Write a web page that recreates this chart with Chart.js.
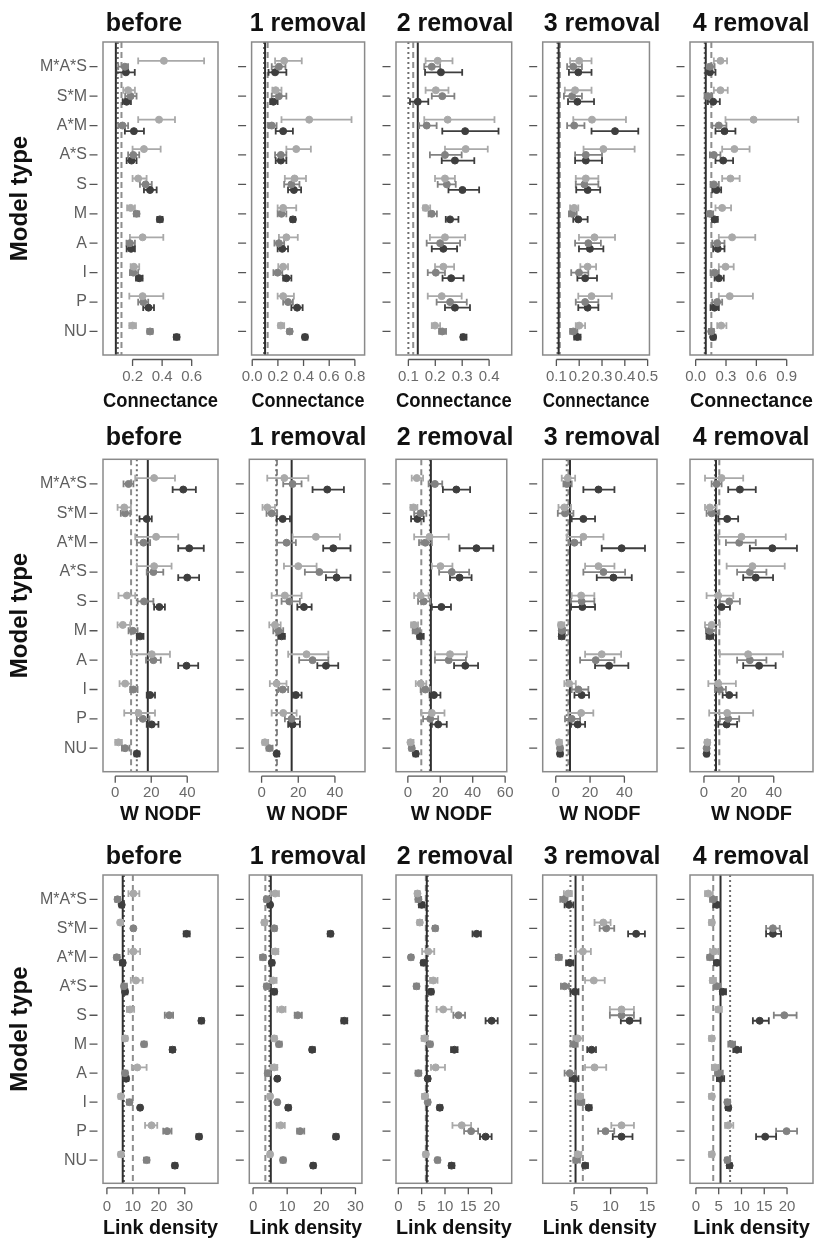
<!DOCTYPE html>
<html>
<head>
<meta charset="utf-8">
<script src="https://cdn.jsdelivr.net/npm/chart.js@4.4.1/dist/chart.umd.min.js"></script>
<style>
  html, body { margin: 0; padding: 0; background: #fff; }
  body { width: 818px; height: 1241px; position: relative; overflow: hidden;
         font-family: "Liberation Sans", Arial, Helvetica, sans-serif; }
  canvas { position: absolute; }
  .ptitle { position: absolute; width: 200px; text-align: center; font-weight: bold;
            font-size: 25px; line-height: 30px; color: #111; white-space: nowrap; }
</style>
</head>
<body>
<script>
// ---------- categories and panel labels ----------
const categories = ['M*A*S', 'S*M', 'A*M', 'A*S', 'S', 'M', 'A', 'I', 'P', 'NU'];
const stages = ['before', '1 removal', '2 removal', '3 removal', '4 removal'];
const metricNames = ['Connectance', 'W NODF', 'Link density'];

// Each entry: [estimate, lower, upper] per category (same order as categories)
// ---------- Connectance ----------
const conn0_s1 = [[0.412,0.238,0.684],[0.17,0.137,0.216],[0.379,0.238,0.487],[0.277,0.2,0.39],[0.238,0.2,0.295],[0.187,0.163,0.216],[0.268,0.182,0.408],[0.209,0.187,0.245],[0.268,0.178,0.408],[0.2,0.178,0.223]];
const conn0_s2 = [[0.148,0.103,0.17],[0.187,0.15,0.227],[0.132,0.103,0.17],[0.205,0.17,0.245],[0.288,0.25,0.33],[0.227,0.209,0.245],[0.182,0.159,0.216],[0.205,0.182,0.238],[0.272,0.238,0.306],[0.318,0.3,0.336]];
const conn0_s3 = [[0.155,0.09,0.215],[0.16,0.133,0.189],[0.209,0.148,0.277],[0.193,0.16,0.227],[0.318,0.277,0.363],[0.385,0.367,0.403],[0.19,0.16,0.216],[0.245,0.223,0.268],[0.308,0.272,0.345],[0.498,0.48,0.516]];

const conn1_s1 = [[0.249,0.178,0.386],[0.183,0.157,0.228],[0.444,0.228,0.774],[0.343,0.266,0.457],[0.33,0.254,0.419],[0.241,0.198,0.343],[0.266,0.208,0.355],[0.241,0.203,0.279],[0.241,0.198,0.325],[0.223,0.203,0.249]];
const conn1_s2 = [[0.208,0.152,0.259],[0.208,0.152,0.266],[0.152,0.127,0.19],[0.223,0.178,0.266],[0.305,0.249,0.368],[0.228,0.198,0.266],[0.208,0.173,0.249],[0.198,0.165,0.234],[0.279,0.241,0.317],[0.292,0.274,0.31]];
const conn1_s3 = [[0.178,0.127,0.266],[0.165,0.14,0.198],[0.241,0.183,0.317],[0.223,0.183,0.266],[0.325,0.279,0.381],[0.317,0.3,0.335],[0.234,0.198,0.279],[0.266,0.241,0.305],[0.35,0.305,0.393],[0.411,0.393,0.43]];

const conn2_s1 = [[0.209,0.164,0.264],[0.202,0.164,0.249],[0.246,0.159,0.42],[0.313,0.236,0.395],[0.236,0.199,0.273],[0.164,0.155,0.181],[0.236,0.18,0.311],[0.23,0.199,0.27],[0.224,0.172,0.298],[0.199,0.187,0.218]];
const conn2_s2 = [[0.187,0.159,0.218],[0.226,0.187,0.271],[0.168,0.14,0.205],[0.236,0.18,0.298],[0.243,0.209,0.276],[0.187,0.175,0.206],[0.218,0.168,0.292],[0.202,0.172,0.236],[0.255,0.205,0.317],[0.226,0.214,0.24]];
const conn2_s3 = [[0.221,0.162,0.3],[0.135,0.106,0.174],[0.311,0.226,0.435],[0.273,0.224,0.345],[0.301,0.249,0.363],[0.255,0.239,0.286],[0.23,0.187,0.281],[0.259,0.227,0.305],[0.273,0.236,0.329],[0.304,0.295,0.316]];

const conn3_s1 = [[0.2,0.16,0.254],[0.182,0.137,0.254],[0.256,0.174,0.405],[0.306,0.219,0.443],[0.229,0.185,0.284],[0.178,0.16,0.196],[0.267,0.199,0.357],[0.237,0.205,0.274],[0.254,0.196,0.343],[0.2,0.185,0.226]];
const conn3_s2 = [[0.174,0.147,0.212],[0.169,0.133,0.212],[0.178,0.147,0.223],[0.229,0.182,0.3],[0.223,0.185,0.284],[0.169,0.155,0.189],[0.24,0.182,0.295],[0.199,0.165,0.24],[0.226,0.185,0.284],[0.174,0.16,0.192]];
const conn3_s3 = [[0.196,0.155,0.254],[0.192,0.151,0.265],[0.357,0.254,0.459],[0.229,0.182,0.3],[0.237,0.187,0.292],[0.196,0.174,0.237],[0.247,0.199,0.306],[0.226,0.192,0.278],[0.237,0.196,0.284],[0.192,0.178,0.206]];

const conn4_s1 = [[0.245,0.18,0.31],[0.245,0.18,0.317],[0.573,0.295,1.014],[0.383,0.262,0.533],[0.344,0.262,0.435],[0.262,0.196,0.35],[0.36,0.229,0.589],[0.295,0.229,0.376],[0.337,0.229,0.566],[0.252,0.213,0.304]];
const conn4_s2 = [[0.141,0.108,0.187],[0.121,0.088,0.164],[0.229,0.164,0.304],[0.18,0.141,0.245],[0.18,0.147,0.229],[0.141,0.115,0.173],[0.213,0.164,0.285],[0.187,0.147,0.229],[0.213,0.164,0.262],[0.154,0.131,0.18]];
const conn4_s3 = [[0.141,0.098,0.196],[0.173,0.121,0.239],[0.285,0.196,0.393],[0.272,0.196,0.37],[0.206,0.164,0.252],[0.187,0.164,0.219],[0.219,0.173,0.285],[0.229,0.187,0.278],[0.187,0.147,0.229],[0.173,0.154,0.196]];

// ---------- W NODF ----------
const nodf0_s1 = [[21.6,11.1,33.2],[5,1.3,8.7],[22.7,11.1,35],[21.6,12,31.3],[6.5,1.8,11.1],[4.2,1.3,8.3],[20.3,9.2,30.4],[5.5,2.4,8.7],[12.9,5,22.1],[1.8,0,3.7]];
const nodf0_s2 = [[7.4,4.6,10.1],[5.5,3.1,8.3],[15.7,12,19.4],[21.2,17.5,26.7],[16,12.4,21.2],[9.8,7.4,12.4],[21.2,17.1,25.3],[10.1,8.3,12.4],[15.3,12,19],[5.5,3.7,7.9]];
const nodf0_s3 = [[37.8,31.9,44.8],[17.5,13.5,20.3],[41.1,35,49.2],[40,35,46.6],[24.5,21.6,27.6],[13.8,12,15.7],[39.6,35,46.1],[19.4,17.5,22.1],[20.3,17.5,24],[12,10.7,13.5]];

const nodf1_s1 = [[12.4,3.1,25.5],[3.1,0.5,7.3],[29.6,16.9,42.7],[20,12.2,30],[12.7,5.5,21.8],[7.3,4.2,10.4],[24.5,14.5,36.4],[8.2,4.5,13.6],[11.8,5.5,19.1],[1.8,0.5,3.6]];
const nodf1_s2 = [[16.9,11.8,21.8],[5.5,2.7,8.5],[13.6,8.2,18.7],[31.5,23.6,40.9],[15.1,10.9,20.9],[9.1,6.4,11.8],[27.8,20.5,36.4],[11.5,9.1,14.5],[16.4,12.7,20.9],[4.2,2.7,6]];
const nodf1_s3 = [[35.8,27.8,44.9],[11.5,8.2,15.5],[39.1,33.6,48.5],[40.9,35.1,48.5],[23.1,19.5,27.3],[10.9,9.1,12.7],[35.1,30.4,41.8],[18.7,16.9,21.8],[16.9,14.5,20.9],[8.2,7.3,9.6]];

const nodf2_s1 = [[5.5,2.4,9.4],[3.5,1.6,5.9],[13.4,3.9,25.2],[20.1,14.8,27.5],[7.9,3.9,12.8],[3.9,2,6.3],[26,16.7,36.4],[7.9,4.9,11.4],[14.8,8.3,22.6],[1.6,0.4,3.5]];
const nodf2_s2 = [[16.7,12.8,21.2],[7.9,3.9,11.4],[10.8,6.9,14.8],[27.1,19.3,37.8],[9.8,6.3,13.8],[4.9,3,7.5],[25.2,16.7,35.8],[10.8,7.9,13.8],[13.8,9.4,18.7],[2.4,1,3.9]];
const nodf2_s3 = [[29.9,21.6,38.4],[5.9,2,9.8],[42.3,31.9,52.7],[31.9,26,39.3],[20.7,14.8,26.6],[7.5,5.9,9.8],[35.4,28.5,43.3],[16.1,13.4,20.1],[18.7,14.8,24],[4.9,3.5,6.3]];

const nodf3_s1 = [[7,3.5,11.3],[5,1.6,8.9],[16.1,6.4,27.8],[24.9,17.1,34.2],[14.8,9.3,22.5],[3.1,1.6,5],[26.8,17.1,38.1],[7.8,5,11.7],[14.8,7.4,21.9],[1.9,0.6,3.5]];
const nodf3_s2 = [[6.4,4.5,9.3],[5.4,1.2,10.3],[10.9,7.8,14.8],[27.8,16.1,40.4],[15.1,8.9,22.5],[3.5,1.9,5.4],[23.3,14.2,34.2],[13.2,9.3,19],[9.3,5.4,14.2],[2.5,1.2,3.9]];
const nodf3_s3 = [[24.9,16.1,34.2],[16.1,9.3,22.9],[38.4,26.8,52],[33.6,23.9,44.3],[15.5,8.9,22.9],[3.5,1.9,5],[31.1,22.9,42.3],[15.1,10.9,19.4],[12.8,8.9,17.1],[2.5,1.2,3.9]];

const nodf4_s1 = [[10.1,0.6,22.5],[3.4,0.6,7.2],[21.5,8.2,46.9],[27.8,13,46.3],[8.2,1.5,16.8],[4.4,0.6,9.1],[25.3,9.1,45.3],[8.2,2.5,18.3],[13.3,3,28.2],[1.9,0.6,3.4]];
const nodf4_s2 = [[7.2,4.4,10.1],[4.4,1.5,8.2],[20.2,12.6,29.7],[26.3,19,35.8],[14.5,9.1,20.6],[3.4,1.1,6.9],[26.3,19,35.8],[9.1,6.3,12.6],[13.9,9.1,20.2],[1.5,0.6,3]];
const nodf4_s3 = [[20.6,13.9,29.7],[13.3,8.2,19.6],[39.2,26.3,53.3],[29.7,22.5,39.6],[10.1,6.9,14.9],[3.4,1.5,5.3],[31.6,22.5,41.1],[14.5,10.7,18.7],[13,8.2,19],[1.5,0.6,2.5]];

// ---------- Link density ----------
const link0_s1 = [[10.2,8.3,12.5],[5.1,4.5,6.1],[10.2,8.3,12.8],[11.2,9.2,13.8],[8.9,7.7,10.5],[7,6.1,7.9],[11.7,9.6,15.3],[5.4,4.5,6.3],[17.2,14.7,19.4],[5.4,4.5,6.3]];
const link0_s2 = [[4.1,3.2,5.1],[10.2,9.6,10.9],[3.8,2.9,4.9],[6.6,5.7,7.7],[24,22.3,25.5],[14.3,13.4,15.3],[7,6.1,7.9],[8.7,7.7,9.6],[23.2,21.7,24.9],[15.3,14.3,16.3]];
const link0_s3 = [[5.7,4.9,6.6],[30.7,29.6,31.9],[6.1,5.1,7],[7,6.1,7.9],[36.4,35.5,37.3],[25.3,24.3,26.2],[7.4,6.5,8.3],[12.8,12.2,13.4],[35.5,34.5,36.4],[26.2,25.3,27.1]];

const link1_s1 = [[6.5,5.2,7.6],[3.3,2.7,4],[6.5,5.5,7.4],[5.9,5.2,6.9],[8.4,7.1,9.5],[6.2,5.5,6.9],[6.2,5.2,7.1],[5,4.3,5.5],[8.1,6.9,9.3],[5,4.3,5.5]];
const link1_s2 = [[4,3.3,4.8],[6.2,5.5,6.9],[2.9,2.1,3.6],[4,3.3,4.8],[13.1,12.2,14.3],[7.6,6.9,8.4],[4.3,3.6,4.8],[7.1,6.7,7.6],[13.8,12.9,15],[8.8,8.1,9.5]];
const link1_s3 = [[5,4.3,5.5],[22.7,21.9,23.3],[5.5,5,6.2],[6.2,5.5,6.9],[26.7,25.9,27.6],[17.3,16.7,18.1],[7.1,6.7,7.6],[10.3,9.7,11],[24.3,23.6,25],[17.6,17,18.3]];

const link2_s1 = [[4.1,3.6,4.6],[4.6,4.1,5.1],[6.4,5.1,7.7],[7.5,6.8,8.4],[9.6,8.2,11.4],[5.6,5,6.3],[8,7,10],[5.7,5.1,6.3],[13.6,11.6,15.6],[5.9,5.4,6.4]];
const link2_s2 = [[4.3,3.7,4.9],[7.9,7.4,8.4],[2.7,2.3,3.2],[3.9,3.4,4.4],[12.9,11.8,14.3],[6.8,6.3,7.3],[4.3,3.7,4.9],[6.3,5.9,6.8],[15.6,14.1,17.1],[8.4,8,8.9]];
const link2_s3 = [[5,4.4,5.6],[16.8,15.9,17.7],[5.4,4.9,5.9],[7,6.6,7.5],[20,18.7,21.3],[12,11.3,12.7],[6.3,5.9,6.8],[8.9,8.4,9.4],[18.7,17.5,20],[11.4,10.9,12]];

const link3_s1 = [[4.2,3.6,4.7],[9,7.8,10],[6.2,5.2,7.3],[7.7,6.5,9.2],[11.5,9.9,13.2],[5.5,4.9,6.2],[7.8,6.5,9.4],[5.8,5.3,6.2],[11.5,10.1,13.2],[5.5,5.1,6]];
const link3_s2 = [[3.6,3.1,4.1],[9.4,8.5,10.5],[2.9,2.5,3.3],[3.7,3.2,4.3],[11.5,9.9,13.2],[5,4.5,5.5],[4.4,3.7,5.2],[5.9,5.5,6.4],[9.3,8.3,10.5],[5.3,4.9,5.8]];
const link3_s3 = [[4.3,3.7,4.9],[13.5,12.4,14.7],[4.4,3.9,4.9],[5.1,4.5,5.6],[12.6,11.4,14.1],[7.4,6.8,8],[5,4.4,5.6],[7,6.7,7.4],[11.5,10.3,13],[6.5,6.2,6.9]];

const link4_s1 = [[2.7,2,3.7],[3.5,2.9,4],[4,3.1,4.9],[3.7,3.1,4.4],[4.9,4.4,5.7],[3.5,2.9,4],[4.2,3.5,4.9],[3.5,2.9,4],[7.1,6.4,8.2],[3.5,2.9,4]];
const link4_s2 = [[3.8,3.1,4.6],[16.9,15.4,18.4],[3.1,2.5,3.8],[4.6,4,5.3],[19.4,17.1,22.1],[7.9,7.1,8.6],[4.9,4.2,5.9],[6.9,6.4,7.5],[19.9,17.6,22.2],[6.9,6.4,7.5]];
const link4_s3 = [[4.6,3.8,5.3],[16.9,15.4,18.7],[4.6,4,5.3],[5.9,5.3,6.6],[14,12.5,16],[9,8.2,9.9],[5.3,4.6,6.2],[7.1,6.6,7.6],[15.2,13.2,17.6],[7.4,6.8,7.9]];

// ---------- reference lines per panel: [solid, dashed, dotted] ----------
const connRefs = [[0.087,0.125,0.10],[0.10,0.12,0.092],[0.135,0.118,0.10],[0.11,0.115,0.105],[0.10,0.155,0.09]];
const nodfRefs = [[18.1,8.8,12],[16.4,8.4,8.0],[14.2,8.3,13.6],[8.3,7.4,6.4],[6.9,8.8,6.3]];
const linkRefs = [[6.1,10,6.6],[5.2,3.6,4.8],[6.1,5.9,6.3],[5.2,6.2,4.5],[5.4,3.8,7.5]];

// ---------- tick labels and axis limits ----------
const connTicks = [[0.2,0.4,0.6],[0,0.2,0.4,0.6,0.8],[0.1,0.2,0.3,0.4],[0.1,0.2,0.3,0.4,0.5],[0,0.3,0.6,0.9]];
const nodfTicks = [[0,20,40],[0,20,40],[0,20,40,60],[0,20,40],[0,20,40]];
const linkTicks = [[0,10,20,30],[0,10,20,30],[0,5,10,15,20],[5,10,15],[0,5,10,15,20]];
const connRange = [[0,0.778],[-0.005,0.876],[0.054,0.484],[0.04,0.508],[-0.056,1.16]];
const nodfRange = [[-6.8,57.1],[-6.7,56.4],[-7.3,61],[-7.6,59],[-8,62.5]];
const linkRange = [[-1.5,42.8],[-1.1,31.9],[-0.5,24.3],[0.7,16.3],[-1.3,25.7]];

// ---------- assembled per metric ----------
const metrics = [
  { ticks: connTicks, range: connRange, refs: connRefs, decimals: 1,
    sets: [[conn0_s1,conn0_s2,conn0_s3],[conn1_s1,conn1_s2,conn1_s3],[conn2_s1,conn2_s2,conn2_s3],[conn3_s1,conn3_s2,conn3_s3],[conn4_s1,conn4_s2,conn4_s3]] },
  { ticks: nodfTicks, range: nodfRange, refs: nodfRefs, decimals: 0,
    sets: [[nodf0_s1,nodf0_s2,nodf0_s3],[nodf1_s1,nodf1_s2,nodf1_s3],[nodf2_s1,nodf2_s2,nodf2_s3],[nodf3_s1,nodf3_s2,nodf3_s3],[nodf4_s1,nodf4_s2,nodf4_s3]] },
  { ticks: linkTicks, range: linkRange, refs: linkRefs, decimals: 0,
    sets: [[link0_s1,link0_s2,link0_s3],[link1_s1,link1_s2,link1_s3],[link2_s1,link2_s2,link2_s3],[link3_s1,link3_s2,link3_s3],[link4_s1,link4_s2,link4_s3]] }
];

// ---------- styling and layout ----------
const seriesColors = ['#a9a9a9', '#828282', '#3e3e3e'];
const dodge = [-0.2, 0, 0.19];
const refStyles = [
  { color: '#2f2f2f', dash: [],     width: 2 },   // solid
  { color: '#8e8e8e', dash: [6, 4], width: 2 },   // dashed
  { color: '#6e6e6e', dash: [2, 3], width: 2 }    // dotted
];
const colLeft  = [103, 249.3, 396, 542.7, 690];
const colRight = [218, 365, 511.7, 657, 813];
const titleCenterX = [144, 308, 455, 602, 751];
const rows = [
  { boxTop: 42,    boxBottom: 355,    tickCenter: 376.7,  axisTitleCenter: 400.3,  titleTop: 7 },
  { boxTop: 459.3, boxBottom: 771.7,  tickCenter: 793,    axisTitleCenter: 813.3,  titleTop: 421.3 },
  { boxTop: 875,   boxBottom: 1183.3, tickCenter: 1206.7, axisTitleCenter: 1227.5, titleTop: 839.6 }
];
const FONT = '"Liberation Sans", Arial, Helvetica, sans-serif';
Chart.defaults.font.family = FONT;

// box outline, axis ticks, reference lines and error bars
const panelDecor = {
  id: 'panelDecor',
  beforeDatasetsDraw(chart, args, opts) {
    const { ctx, chartArea: a, scales: { x, y } } = chart;
    ctx.save();
    ctx.beginPath();
    ctx.rect(a.left, a.top, a.right - a.left, a.bottom - a.top);
    ctx.clip();
    [1, 2, 0].forEach(i => {
      const st = refStyles[i];
      const px = x.getPixelForValue(opts.refs[i]);
      ctx.beginPath();
      ctx.setLineDash(st.dash);
      ctx.lineWidth = st.width;
      ctx.strokeStyle = st.color;
      ctx.moveTo(px, a.top);
      ctx.lineTo(px, a.bottom);
      ctx.stroke();
    });
    ctx.setLineDash([]);
    chart.data.datasets.forEach(ds => {
      ctx.strokeStyle = ds.borderColor;
      ctx.lineWidth = 1.8;
      ds.data.forEach(p => {
        const py = y.getPixelForValue(p.y);
        const x0 = x.getPixelForValue(p.lo);
        const x1 = x.getPixelForValue(p.hi);
        ctx.beginPath();
        ctx.moveTo(x0, py); ctx.lineTo(x1, py);
        ctx.moveTo(x0, py - 3.4); ctx.lineTo(x0, py + 3.4);
        ctx.moveTo(x1, py - 3.4); ctx.lineTo(x1, py + 3.4);
        ctx.stroke();
      });
    });
    ctx.restore();
  },
  afterDraw(chart) {
    const { ctx, chartArea: a, scales: { x, y } } = chart;
    ctx.save();
    ctx.strokeStyle = '#8a8a8a';
    ctx.lineWidth = 1.5;
    ctx.strokeRect(a.left, a.top, a.right - a.left, a.bottom - a.top);
    ctx.strokeStyle = '#555';
    ctx.lineWidth = 1.3;
    // x axis line between first and last tick, with tick marks
    const xt = x.ticks.map(t => x.getPixelForValue(t.value));
    const ay = a.bottom + 4.5;
    ctx.beginPath();
    ctx.moveTo(xt[0], ay); ctx.lineTo(xt[xt.length - 1], ay);
    xt.forEach(px => { ctx.moveTo(px, ay); ctx.lineTo(px, ay + 6.5); });
    // y tick marks
    y.ticks.forEach(t => {
      const py = y.getPixelForValue(t.value);
      ctx.moveTo(a.left - 13.5, py); ctx.lineTo(a.left - 5.5, py);
    });
    ctx.stroke();
    ctx.restore();
  }
};

function makePanel(r, c) {
  const m = metrics[r];
  const g = rows[r];
  const yw0 = c === 0 ? 103 : 20;
  const left = Math.floor(colLeft[c] - yw0);
  const yw = colLeft[c] - left;
  const top = Math.floor(g.boxTop - 32);
  const padTop = g.boxTop - top;
  const xAxisH = g.axisTitleCenter + 13 - g.boxBottom;
  const width = Math.ceil(colRight[c] + 14 - left);
  const padRight = left + width - colRight[c];
  const height = Math.ceil(padTop + (g.boxBottom - g.boxTop) + xAxisH);
  const xh = height - padTop - (g.boxBottom - g.boxTop);

  const cv = document.createElement('canvas');
  cv.width = width; cv.height = height;
  cv.style.left = left + 'px'; cv.style.top = top + 'px';
  cv.style.width = width + 'px'; cv.style.height = height + 'px';
  document.body.appendChild(cv);

  const t = document.createElement('div');
  t.className = 'ptitle';
  t.textContent = stages[c];
  t.style.left = (titleCenterX[c] - 100) + 'px';
  t.style.top = g.titleTop + 'px';
  document.body.appendChild(t);

  const datasets = m.sets[c].map((arr, k) => ({
    type: 'scatter',
    data: arr.map((d, i) => ({ x: d[0], y: i + dodge[k], lo: d[1], hi: d[2] })),
    backgroundColor: seriesColors[k],
    borderColor: seriesColors[k],
    pointRadius: 3.5,
    pointBorderWidth: 1,
    pointHoverRadius: 3.5
  }));

  const tickVals = m.ticks[c];
  new Chart(cv, {
    type: 'scatter',
    data: { datasets },
    plugins: [panelDecor],
    options: {
      responsive: false,
      animation: false,
      events: [],
      devicePixelRatio: 1,
      layout: { padding: { top: padTop, right: padRight, left: 0, bottom: 0 } },
      plugins: {
        legend: { display: false },
        tooltip: { enabled: false },
        panelDecor: { refs: m.refs[c] }
      },
      scales: {
        x: {
          type: 'linear',
          position: 'bottom',
          min: m.range[c][0],
          max: m.range[c][1],
          afterBuildTicks: s => { s.ticks = tickVals.map(v => ({ value: v })); },
          afterFit: s => { s.height = xh; },
          grid: { display: false, drawTicks: false },
          border: { display: false },
          ticks: {
            autoSkip: false, maxRotation: 0, minRotation: 0,
            padding: g.tickCenter - g.boxBottom - 9,
            color: '#6a6a6a',
            font: { size: 15 },
            callback: v => Number(v).toFixed(m.decimals)
          },
          title: {
            display: true, text: metricNames[r], color: '#111',
            font: { size: 20, weight: 'bold' },
            padding: { top: 0, bottom: 1 }
          }
        },
        y: {
          type: 'linear',
          position: 'left',
          reverse: true,
          min: -0.84,
          max: 9.8,
          afterBuildTicks: s => { s.ticks = categories.map((_, i) => ({ value: i })); },
          afterFit: s => { s.width = yw; },
          grid: { display: false, drawTicks: false },
          border: { display: false },
          ticks: {
            display: c === 0,
            padding: 16,
            color: '#5e5e5e',
            font: { size: 16 },
            callback: v => categories[v]
          },
          title: {
            display: c === 0, text: 'Model type', color: '#111',
            font: { size: 24, weight: 'bold' },
            padding: { top: 6.3, bottom: 0 }
          }
        }
      }
    }
  });
}

for (let r = 0; r < 3; r++) {
  for (let c = 0; c < 5; c++) makePanel(r, c);
}
</script>
</body>
</html>
